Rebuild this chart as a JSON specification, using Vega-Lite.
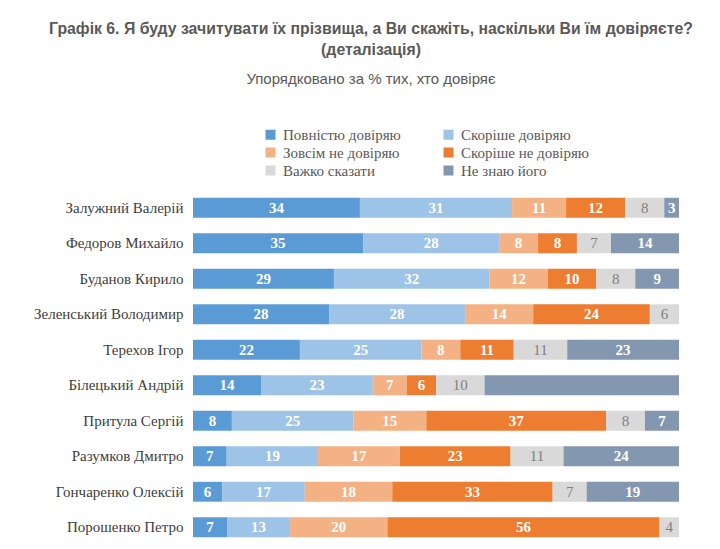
{
 "$schema": "https://vega.github.io/schema/vega-lite/v6.json",
 "width": 486,
 "height": 355,
 "autosize": {"type": "none"},
 "padding": {"left": 193, "top": 190, "right": 41, "bottom": 4},
 "background": "white",
 "title": {
  "text": ["Графік 6. Я буду зачитувати їх прізвища, а Ви скажіть, наскільки Ви їм довіряєте?", "(деталізація)"],
  "subtitle": "Упорядковано за % тих, хто довіряє",
  "anchor": "middle",
  "dx": -65,
  "font": "Liberation Sans",
  "fontSize": 15.8,
  "fontWeight": "bold",
  "color": "#595959",
  "lineHeight": 21,
  "subtitleFont": "Liberation Sans",
  "subtitleFontSize": 15,
  "subtitleColor": "#595959",
  "subtitlePadding": 13,
  "offset": 39
 },
 "config": {
  "view": {"stroke": null},
  "axis": {"grid": false}
 },
 "data": {"values": [
  {"name": "Залужний Валерій", "cat": "Повністю довіряю", "ord": 1, "value": 34, "label": "34"},
  {"name": "Залужний Валерій", "cat": "Скоріше довіряю", "ord": 2, "value": 31, "label": "31"},
  {"name": "Залужний Валерій", "cat": "Зовсім не довіряю", "ord": 3, "value": 11, "label": "11"},
  {"name": "Залужний Валерій", "cat": "Скоріше не довіряю", "ord": 4, "value": 12, "label": "12"},
  {"name": "Залужний Валерій", "cat": "Важко сказати", "ord": 5, "value": 8, "label": "8"},
  {"name": "Залужний Валерій", "cat": "Не знаю його", "ord": 6, "value": 3, "label": "3"},
  {"name": "Федоров Михайло", "cat": "Повністю довіряю", "ord": 1, "value": 35, "label": "35"},
  {"name": "Федоров Михайло", "cat": "Скоріше довіряю", "ord": 2, "value": 28, "label": "28"},
  {"name": "Федоров Михайло", "cat": "Зовсім не довіряю", "ord": 3, "value": 8, "label": "8"},
  {"name": "Федоров Михайло", "cat": "Скоріше не довіряю", "ord": 4, "value": 8, "label": "8"},
  {"name": "Федоров Михайло", "cat": "Важко сказати", "ord": 5, "value": 7, "label": "7"},
  {"name": "Федоров Михайло", "cat": "Не знаю його", "ord": 6, "value": 14, "label": "14"},
  {"name": "Буданов Кирило", "cat": "Повністю довіряю", "ord": 1, "value": 29, "label": "29"},
  {"name": "Буданов Кирило", "cat": "Скоріше довіряю", "ord": 2, "value": 32, "label": "32"},
  {"name": "Буданов Кирило", "cat": "Зовсім не довіряю", "ord": 3, "value": 12, "label": "12"},
  {"name": "Буданов Кирило", "cat": "Скоріше не довіряю", "ord": 4, "value": 10, "label": "10"},
  {"name": "Буданов Кирило", "cat": "Важко сказати", "ord": 5, "value": 8, "label": "8"},
  {"name": "Буданов Кирило", "cat": "Не знаю його", "ord": 6, "value": 9, "label": "9"},
  {"name": "Зеленський Володимир", "cat": "Повністю довіряю", "ord": 1, "value": 28, "label": "28"},
  {"name": "Зеленський Володимир", "cat": "Скоріше довіряю", "ord": 2, "value": 28, "label": "28"},
  {"name": "Зеленський Володимир", "cat": "Зовсім не довіряю", "ord": 3, "value": 14, "label": "14"},
  {"name": "Зеленський Володимир", "cat": "Скоріше не довіряю", "ord": 4, "value": 24, "label": "24"},
  {"name": "Зеленський Володимир", "cat": "Важко сказати", "ord": 5, "value": 6, "label": "6"},
  {"name": "Зеленський Володимир", "cat": "Не знаю його", "ord": 6, "value": 0, "label": ""},
  {"name": "Терехов Ігор", "cat": "Повністю довіряю", "ord": 1, "value": 22, "label": "22"},
  {"name": "Терехов Ігор", "cat": "Скоріше довіряю", "ord": 2, "value": 25, "label": "25"},
  {"name": "Терехов Ігор", "cat": "Зовсім не довіряю", "ord": 3, "value": 8, "label": "8"},
  {"name": "Терехов Ігор", "cat": "Скоріше не довіряю", "ord": 4, "value": 11, "label": "11"},
  {"name": "Терехов Ігор", "cat": "Важко сказати", "ord": 5, "value": 11, "label": "11"},
  {"name": "Терехов Ігор", "cat": "Не знаю його", "ord": 6, "value": 23, "label": "23"},
  {"name": "Білецький Андрій", "cat": "Повністю довіряю", "ord": 1, "value": 14, "label": "14"},
  {"name": "Білецький Андрій", "cat": "Скоріше довіряю", "ord": 2, "value": 23, "label": "23"},
  {"name": "Білецький Андрій", "cat": "Зовсім не довіряю", "ord": 3, "value": 7, "label": "7"},
  {"name": "Білецький Андрій", "cat": "Скоріше не довіряю", "ord": 4, "value": 6, "label": "6"},
  {"name": "Білецький Андрій", "cat": "Важко сказати", "ord": 5, "value": 10, "label": "10"},
  {"name": "Білецький Андрій", "cat": "Не знаю його", "ord": 6, "value": 40, "label": ""},
  {"name": "Притула Сергій", "cat": "Повністю довіряю", "ord": 1, "value": 8, "label": "8"},
  {"name": "Притула Сергій", "cat": "Скоріше довіряю", "ord": 2, "value": 25, "label": "25"},
  {"name": "Притула Сергій", "cat": "Зовсім не довіряю", "ord": 3, "value": 15, "label": "15"},
  {"name": "Притула Сергій", "cat": "Скоріше не довіряю", "ord": 4, "value": 37, "label": "37"},
  {"name": "Притула Сергій", "cat": "Важко сказати", "ord": 5, "value": 8, "label": "8"},
  {"name": "Притула Сергій", "cat": "Не знаю його", "ord": 6, "value": 7, "label": "7"},
  {"name": "Разумков Дмитро", "cat": "Повністю довіряю", "ord": 1, "value": 7, "label": "7"},
  {"name": "Разумков Дмитро", "cat": "Скоріше довіряю", "ord": 2, "value": 19, "label": "19"},
  {"name": "Разумков Дмитро", "cat": "Зовсім не довіряю", "ord": 3, "value": 17, "label": "17"},
  {"name": "Разумков Дмитро", "cat": "Скоріше не довіряю", "ord": 4, "value": 23, "label": "23"},
  {"name": "Разумков Дмитро", "cat": "Важко сказати", "ord": 5, "value": 11, "label": "11"},
  {"name": "Разумков Дмитро", "cat": "Не знаю його", "ord": 6, "value": 24, "label": "24"},
  {"name": "Гончаренко Олексій", "cat": "Повністю довіряю", "ord": 1, "value": 6, "label": "6"},
  {"name": "Гончаренко Олексій", "cat": "Скоріше довіряю", "ord": 2, "value": 17, "label": "17"},
  {"name": "Гончаренко Олексій", "cat": "Зовсім не довіряю", "ord": 3, "value": 18, "label": "18"},
  {"name": "Гончаренко Олексій", "cat": "Скоріше не довіряю", "ord": 4, "value": 33, "label": "33"},
  {"name": "Гончаренко Олексій", "cat": "Важко сказати", "ord": 5, "value": 7, "label": "7"},
  {"name": "Гончаренко Олексій", "cat": "Не знаю його", "ord": 6, "value": 19, "label": "19"},
  {"name": "Порошенко Петро", "cat": "Повністю довіряю", "ord": 1, "value": 7, "label": "7"},
  {"name": "Порошенко Петро", "cat": "Скоріше довіряю", "ord": 2, "value": 13, "label": "13"},
  {"name": "Порошенко Петро", "cat": "Зовсім не довіряю", "ord": 3, "value": 20, "label": "20"},
  {"name": "Порошенко Петро", "cat": "Скоріше не довіряю", "ord": 4, "value": 56, "label": "56"},
  {"name": "Порошенко Петро", "cat": "Важко сказати", "ord": 5, "value": 4, "label": "4"},
  {"name": "Порошенко Петро", "cat": "Не знаю його", "ord": 6, "value": 0, "label": ""}
 ]},
 "encoding": {
  "y": {
   "field": "name",
   "type": "nominal",
   "sort": null,
   "scale": {"paddingInner": 0.44, "paddingOuter": 0.22},
   "axis": {
    "title": null,
    "ticks": false,
    "domain": false,
    "labelFont": "Liberation Serif",
    "labelFontSize": 15,
    "labelColor": "#404040",
    "labelPadding": 10
   }
  }
 },
 "layer": [
  {
   "mark": {"type": "bar"},
   "encoding": {
    "x": {"field": "value", "type": "quantitative", "stack": "normalize", "axis": null},
    "color": {
     "field": "cat",
     "type": "nominal",
     "scale": {
      "domain": ["Повністю довіряю", "Скоріше довіряю", "Зовсім не довіряю", "Скоріше не довіряю", "Важко сказати", "Не знаю його"],
      "range": ["#5b9bd5", "#9dc3e6", "#f4b183", "#ed7d31", "#d9d9d9", "#8497b0"]
     },
     "legend": {
      "title": null,
      "orient": "none",
      "direction": "horizontal",
      "legendX": 70,
      "legendY": -63,
      "columns": 2,
      "columnPadding": 40,
      "rowPadding": 2,
      "symbolType": "square",
      "symbolSize": 100,
      "symbolStrokeWidth": 0,
      "labelFont": "Liberation Serif",
      "labelFontSize": 15,
      "labelColor": "#595959",
      "labelOffset": 5
     }
    },
    "order": {"field": "ord", "type": "quantitative"}
   }
  },
  {
   "mark": {"type": "text", "font": "Liberation Serif", "fontSize": 15, "fontWeight": "bold", "color": "white"},
   "encoding": {
    "x": {"field": "value", "type": "quantitative", "stack": "normalize", "bandPosition": 0.5},
    "detail": {"field": "cat", "type": "nominal"},
    "order": {"field": "ord", "type": "quantitative"},
    "text": {"condition": {"test": "datum.cat !== 'Важко сказати'", "field": "label", "type": "nominal"}, "value": ""}
   }
  },
  {
   "mark": {"type": "text", "font": "Liberation Serif", "fontSize": 15, "fontWeight": "normal", "color": "#7f7f7f"},
   "encoding": {
    "x": {"field": "value", "type": "quantitative", "stack": "normalize", "bandPosition": 0.5},
    "detail": {"field": "cat", "type": "nominal"},
    "order": {"field": "ord", "type": "quantitative"},
    "text": {"condition": {"test": "datum.cat === 'Важко сказати'", "field": "label", "type": "nominal"}, "value": ""}
   }
  }
 ]
}
